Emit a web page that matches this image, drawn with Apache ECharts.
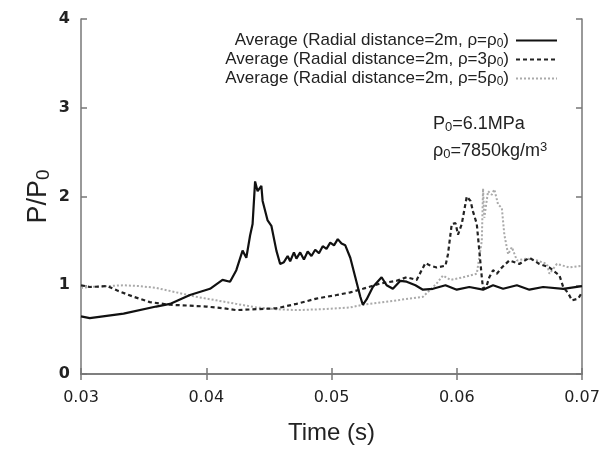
<!DOCTYPE html>
<html>
<head>
<meta charset="utf-8">
<script src="https://cdn.jsdelivr.net/npm/echarts@6/dist/echarts.min.js"></script>
<style>html,body{margin:0;padding:0;background:#fff;}#c{width:613px;height:450px;}</style>
</head>
<body>
<div id="c"></div>
<script>
// Series 1: rho = rho0 (solid)
const t1 = [0.0300,0.0307,0.0334,0.0360,0.0371,0.0387,0.0403,0.0413,0.0419,0.0424,0.0429,0.0432,0.0435,0.0437,0.0439,0.0441,0.0444,0.0445,0.0449,0.0452,0.0456,0.0459,0.0462,0.0465,0.0467,0.0470,0.0472,0.0475,0.0478,0.0481,0.0484,0.0487,0.0490,0.0493,0.0496,0.0499,0.0502,0.0505,0.0508,0.0511,0.0515,0.0519,0.0523,0.0525,0.0528,0.0533,0.0540,0.0544,0.0549,0.0555,0.0560,0.0567,0.0573,0.0581,0.0591,0.0600,0.0610,0.0621,0.0629,0.0637,0.0648,0.0658,0.0669,0.0685,0.0700];
const v1 = [0.65,0.63,0.68,0.76,0.79,0.89,0.96,1.06,1.04,1.17,1.39,1.31,1.56,1.69,2.17,2.06,2.12,1.95,1.73,1.67,1.39,1.24,1.26,1.33,1.27,1.37,1.30,1.37,1.29,1.38,1.33,1.40,1.36,1.44,1.41,1.48,1.45,1.52,1.47,1.45,1.31,1.09,0.87,0.78,0.84,0.98,1.09,1.00,0.96,1.05,1.04,1.00,0.95,0.96,1.00,0.95,0.98,0.95,1.00,0.96,1.00,0.95,0.98,0.96,0.99];
// Series 2: rho = 3 rho0 (dashed)
const t2 = [0.0300,0.0307,0.0321,0.0329,0.0342,0.0355,0.0371,0.0387,0.0400,0.0414,0.0424,0.0440,0.0456,0.0472,0.0488,0.0504,0.0515,0.0525,0.0539,0.0552,0.0560,0.0568,0.0572,0.0575,0.0579,0.0584,0.0591,0.0593,0.0596,0.0599,0.0601,0.0604,0.0608,0.0611,0.0613,0.0616,0.0618,0.0620,0.0621,0.0624,0.0626,0.0629,0.0632,0.0636,0.0642,0.0650,0.0658,0.0666,0.0674,0.0682,0.0685,0.0689,0.0692,0.0697,0.0700];
const v2 = [1.00,0.98,0.99,0.94,0.87,0.81,0.78,0.77,0.76,0.74,0.72,0.73,0.74,0.79,0.85,0.89,0.92,0.96,1.02,1.05,1.09,1.06,1.17,1.25,1.22,1.20,1.22,1.35,1.69,1.70,1.57,1.69,2.00,1.95,1.83,1.69,1.39,1.09,0.96,1.00,1.09,1.17,1.13,1.20,1.28,1.24,1.31,1.24,1.20,1.11,0.98,0.91,0.83,0.85,0.92];
// Series 3: rho = 5 rho0 (dotted)
const t3 = [0.0300,0.0307,0.0334,0.0347,0.0360,0.0376,0.0392,0.0408,0.0424,0.0440,0.0456,0.0472,0.0493,0.0515,0.0525,0.0552,0.0573,0.0584,0.0589,0.0595,0.0605,0.0616,0.0620,0.0621,0.0622,0.0625,0.0628,0.0630,0.0633,0.0636,0.0638,0.0641,0.0644,0.0648,0.0656,0.0664,0.0672,0.0674,0.0680,0.0690,0.0700];
const v3 = [0.97,0.98,1.00,0.99,0.97,0.92,0.87,0.83,0.79,0.75,0.73,0.72,0.73,0.75,0.78,0.83,0.87,1.02,1.11,1.06,1.09,1.13,1.50,2.09,1.76,2.06,2.02,2.08,1.91,1.87,1.57,1.35,1.43,1.28,1.30,1.28,1.24,1.13,1.24,1.20,1.22];

const seriesNames = [
  'Average (Radial distance=2m, ρ=ρ0)',
  'Average (Radial distance=2m, ρ=3ρ0)',
  'Average (Radial distance=2m, ρ=5ρ0)'
];
const xTicks = ['0.03','0.04','0.05','0.06','0.07'];
const yTicks = ['0','1','2','3','4'];

const zip = (t, v) => t.map((x, i) => [x, v[i]]);
const font = '"Liberation Sans", Arial, sans-serif';
const tickFont = '"DejaVu Sans", Verdana, sans-serif';
const axisCol = '#777';

const chart = echarts.init(document.getElementById('c'), null, {renderer: 'canvas'});
const commonX = {
  type: 'value', min: 0.03, max: 0.07, interval: 0.01,
  axisLine: {show: true, lineStyle: {color: axisCol, width: 1.5}},
  axisTick: {show: true, inside: true, length: 6, lineStyle: {color: axisCol, width: 1.5}},
  splitLine: {show: false}
};
const commonY = {
  type: 'value', min: 0, max: 4, interval: 1,
  axisLine: {show: true, lineStyle: {color: axisCol, width: 1.5}},
  axisTick: {show: true, inside: true, length: 6, lineStyle: {color: axisCol, width: 1.5}},
  splitLine: {show: false}
};
chart.setOption({
  animation: false,
  backgroundColor: '#fff',
  grid: {left: 81, right: 31, top: 19, bottom: 72, containLabel: false},
  xAxis: [
    Object.assign({}, commonX, {
      position: 'bottom',
      axisLabel: {
        color: '#222', fontSize: 16, fontFamily: tickFont, margin: 16,
        formatter: v => { const s = v.toFixed(2); return xTicks.includes(s) ? s : ''; }
      },
      name: 'Time (s)', nameLocation: 'middle', nameGap: 47,
      nameTextStyle: {color: '#222', fontSize: 24, fontFamily: font}
    }),
    Object.assign({}, commonX, {position: 'top', axisLabel: {show: false}})
  ],
  yAxis: [
    Object.assign({}, commonY, {
      position: 'left',
      axisLabel: {
        color: '#222', fontSize: 16, fontFamily: tickFont, margin: 11, fontWeight: 'bold',
        formatter: v => { const s = String(Math.round(v)); return yTicks.includes(s) ? s : ''; }
      },
      name: 'P/P{s|0}', nameLocation: 'middle', nameGap: 28, nameRotate: 90,
      nameMoveOverlap: false,
      nameTextStyle: {color: '#222', fontSize: 27, fontFamily: font,
        rich: {s: {fontSize: 19, fontFamily: font, color: '#222', padding: [10, 0, 0, 0]}}}
    }),
    Object.assign({}, commonY, {position: 'right', axisLabel: {show: false}})
  ],
  legend: {
    orient: 'vertical', right: 55, top: 32, align: 'right', padding: 0,
    itemWidth: 41, itemHeight: 14, itemGap: 1.5,
    data: seriesNames,
    itemStyle: {opacity: 0, borderWidth: 0},
    formatter: n => n.replace(/ρ0\)/, 'ρ{s|0})'),
    textStyle: {color: '#222', fontSize: 17, fontFamily: font, padding: [0, 2, 0, 0],
      rich: {s: {fontSize: 12, fontFamily: font, color: '#222', padding: [6, 0, 0, 0]}}}
  },
  graphic: [
    {type: 'text', left: 433, top: 115, style: {
      text: 'P{s|0}=6.1MPa', fill: '#222', fontSize: 18, fontFamily: font,
      rich: {s: {fontSize: 13, fontFamily: font, fill: '#222', padding: [6, 0, 0, 0]}}}},
    {type: 'text', left: 433, top: 141, style: {
      text: 'ρ{s|0}=7850kg/m{u|3}', fill: '#222', fontSize: 18, fontFamily: font,
      rich: {s: {fontSize: 13, fontFamily: font, fill: '#222', padding: [6, 0, 0, 0]},
             u: {fontSize: 13, fontFamily: font, fill: '#222', padding: [0, 0, 8, 0]}}}}
  ],
  series: [
    {name: seriesNames[0], type: 'line', symbol: 'none', data: zip(t1, v1),
     lineStyle: {color: '#111', width: 2.2, type: 'solid'}, itemStyle: {color: '#111'}, z: 5},
    {name: seriesNames[1], type: 'line', symbol: 'none', data: zip(t2, v2),
     lineStyle: {color: '#222', width: 2.2, type: [4, 3]}, itemStyle: {color: '#222'}, z: 4},
    {name: seriesNames[2], type: 'line', symbol: 'none', data: zip(t3, v3),
     lineStyle: {color: '#aaa', width: 2, type: [2, 2]}, itemStyle: {color: '#aaa'}, z: 3}
  ]
});
</script>
</body>
</html>
